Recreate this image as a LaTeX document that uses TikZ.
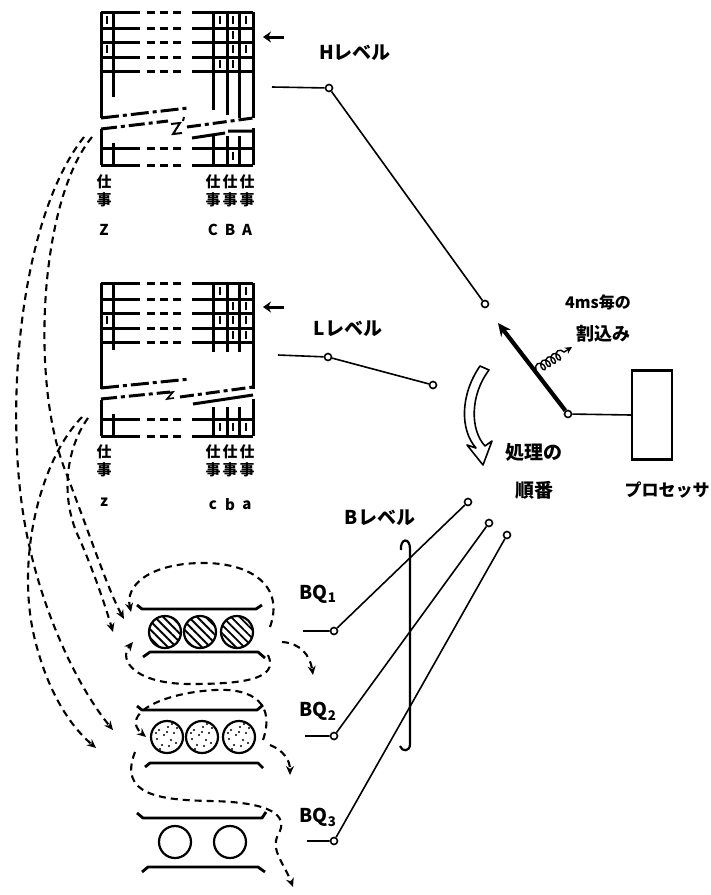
\documentclass[tikz,border=0pt]{standalone}
\usepackage{fontspec}
\setmainfont{Noto Sans CJK JP}
\usetikzlibrary{arrows.meta, positioning, decorations.pathmorphing, patterns.meta}

\tikzset{
  rule/.style={line width=3pt},
  tally/.style={line width=2.8pt},
  wire/.style={line width=1.6pt},
  contact/.style={circle, draw, line width=1.6pt, fill=white, inner sep=0pt, minimum size=7pt},
  flow/.style={line width=2.1pt, dash pattern=on 7pt off 5pt, -{Stealth[length=9pt,width=8pt]}},
  wall/.style={line width=2.8pt, line join=round},
  job/.style={circle, draw, line width=2.2pt, inner sep=0pt, minimum size=32pt},
  lbl/.style={inner sep=0pt, font=\fontsize{15}{18}\selectfont\bfseries},
  big/.style={inner sep=0pt, font=\fontsize{19}{20}\selectfont\bfseries},
}

\begin{document}
\begin{tikzpicture}[x=1pt, y=-1pt]
\useasboundingbox (0,0) rectangle (711,895);

% job tables, H level on top and L level below
\foreach \dy in {0,271} {
  \foreach \y in {12,28,42,57,71,148,165} {
    \draw[rule] (101,\y+\dy) -- (140,\y+\dy);
    \draw[rule, dash pattern=on 8pt off 5pt] (147,\y+\dy) -- (182,\y+\dy);
    \draw[rule] (192,\y+\dy) -- (253,\y+\dy);
  }
  \draw[rule] (101,12+\dy) -- (101,118+\dy);
  \draw[rule] (253,12+\dy) -- (253,118+\dy);
  \draw[rule] (101,129+\dy) -- (101,165+\dy);
  \draw[rule] (253,128+\dy) -- (253,165+\dy);
  \draw[rule] (113,143+\dy) -- (113,165+\dy);
  \foreach \x in {213,227,239} \draw[rule] (\x,136+\dy) -- (\x,165+\dy);
}
\draw[rule] (113,12) -- (113,97);
\draw[rule] (213,12) -- (213,110);
\draw[rule] (227,12) -- (227,115);
\draw[rule] (239,12) -- (239,118);
\draw[rule] (113,283) -- (113,350);
\foreach \x in {213,227,239} \draw[rule] (\x,283) -- (\x,352);

% torn edges
\draw[rule, dash pattern=on 18pt off 4pt on 4pt off 4pt] (101,118) -- (188,108);
\draw[rule, dash pattern=on 14pt off 4pt on 4pt off 4pt] (187,127) -- (253,118);
\draw[rule, dash pattern=on 16pt off 4pt on 4pt off 4pt] (101,129) -- (168,121);
\draw[rule] (192,138) -- (225,133) (228,131) -- (253,131);
\draw[line width=2pt] (171,124) -- (180,123) -- (173,134) -- (182,133) (184,117) -- (183,121);
\draw[rule, dash pattern=on 18pt off 4pt on 4pt off 4pt] (101,388) -- (190,379);
\draw[rule, dash pattern=on 14pt off 4pt on 4pt off 4pt] (180,397) -- (253,387);
\draw[rule, dash pattern=on 16pt off 4pt on 4pt off 4pt] (101,399) -- (170,392);
\draw[rule] (193,404) -- (253,395);
\draw[line width=1.6pt] (166,393) -- (173,392) -- (167,399) -- (174,398);

% tallies
\foreach \x/\y in {107/20,220/20,233/20,246/20,233/35,107/49,233/49,246/49,220/64,233/64,233/156}
  \draw[tally] (\x,\y-4) -- (\x,\y+4);
\foreach \x/\y in {220/20,246/20,233/35,246/35,107/49,220/49,233/49,246/49,233/64,246/64,220/156,233/156,246/156}
  \draw[tally] (\x,\y+267) -- (\x,\y+275);

% job labels
\node[lbl, align=center] (jobZ) at (104,191) {仕\\事};
\node[lbl] (nameZ) at (104,230) {Z};
\node[lbl, align=center] (jobC) at (213,191) {仕\\事};
\node[lbl, align=center] (jobB) at (230,191) {仕\\事};
\node[lbl, align=center] (jobA) at (247,191) {仕\\事};
\node[lbl] (nameC) at (213,230) {C};
\node[lbl] (nameB) at (230,230) {B};
\node[lbl] (nameA) at (247,230) {A};
\node[lbl, align=center] (jobz) at (104,461) {仕\\事};
\node[lbl] (namez) at (104,502) {z};
\node[lbl, align=center] (jobc) at (213,461) {仕\\事};
\node[lbl, align=center] (jobb) at (230,461) {仕\\事};
\node[lbl, align=center] (joba) at (247,461) {仕\\事};
\node[lbl] (namec) at (213,505) {c};
\node[lbl] (nameb) at (230,505) {b};
\node[lbl] (namea) at (247,505) {a};

% pointer arrows
\coordinate (hptr) at (284,37);
\coordinate (hptrend) at (263,37);
\coordinate (lptr) at (284,307);
\coordinate (lptrend) at (263,307);
\draw[line width=3pt, -{Stealth[length=8pt,width=11pt]}] (hptr) -- (hptrend);
\draw[line width=3pt, -{Stealth[length=8pt,width=11pt]}] (lptr) -- (lptrend);

% levels
\node[big] (hlab) at (355,53) {Hレベル};
\coordinate (h0) at (272,87);
\node[contact] (h1) at (329,88) {};
\node[contact] (h2) at (485,304) {};
\draw[wire] (h0) -- (h1) -- (h2);

\node[big] (llab) at (348,329) {Lレベル};
\coordinate (l0) at (278,355);
\node[contact] (l1) at (328,357) {};
\node[contact] (l2) at (433,385) {};
\draw[wire] (l0) -- (l1) -- (l2);

% processor and switch arm
\node[draw, line width=2.2pt, minimum width=40pt, minimum height=89pt, inner sep=0pt] (proc) at (652,415) {};
\node[lbl, font=\fontsize{17}{18}\selectfont\bfseries] (proclab) at (667,490) {プロセッサ};
\node[contact] (sw) at (568,414) {};
\coordinate (swtip) at (498,323);
\draw[wire] (proc.west) -- (sw);
\draw[line width=4.2pt, -{Stealth[length=13pt,width=12pt]}] (sw) -- (swtip);
\coordinate (w0) at (536,370);
\coordinate (w1) at (572,347);
\draw[line width=1.4pt, decorate, decoration={coil, aspect=0.7, segment length=6pt, amplitude=4.5pt, post length=6pt}, -{Stealth[length=7pt,width=7pt]}] (w0) -- (w1);
\node[lbl, font=\fontsize{16}{18}\selectfont\bfseries] (every) at (598,302) {4ms毎の};
\node[lbl, font=\fontsize{18}{18}\selectfont\bfseries] (intr) at (603,334) {割込み};

% processing order
\draw[line width=1.6pt, fill=white, line join=round] (480,366) .. controls (460,395) and (460,430) .. (476,448) -- (467,445) -- (483,465) -- (492,441) -- (485,446) .. controls (470,430) and (470,395) .. (489,370) -- cycle;
\node[lbl, font=\fontsize{19}{20}\selectfont\bfseries] (order1) at (534,452) {処理の};
\node[lbl, font=\fontsize{19}{20}\selectfont\bfseries] (order2) at (534,490) {順番};

% B level
\node[big] (blab) at (380,518) {Bレベル};
\node[contact] (b1) at (468,502) {};
\node[contact] (b2) at (489,523) {};
\node[contact] (b3) at (507,535) {};
\draw[line width=2.2pt] (401,550) .. controls (400,538) and (410,537) .. (410,549) -- (410,744) .. controls (410,752) and (402,752) .. (400,746);

\node[big] (bq1) at (318,594) {BQ\textsubscript{1}};
\node[big] (bq2) at (318,711) {BQ\textsubscript{2}};
\node[big] (bq3) at (318,817) {BQ\textsubscript{3}};
\coordinate (q1in) at (303,631);
\coordinate (q2in) at (305,736);
\coordinate (q3in) at (307,841);
\node[contact] (q1) at (334,631) {};
\node[contact] (q2) at (334,736) {};
\node[contact] (q3) at (334,841) {};
\draw[wire] (q1in) -- (q1) -- (b1);
\draw[wire] (q2in) -- (q2) -- (b2);
\draw[wire] (q3in) -- (q3) -- (b3);

% queues
\draw[wall] (137,605) -- (142,609) -- (256,609) -- (262,605);
\draw[wall] (143,657) -- (150,652) -- (258,652) -- (265,658);
\draw[wall] (137,706) -- (142,710) -- (257,710) -- (263,705);
\draw[wall] (145,767) -- (150,763) -- (258,763) -- (263,768);
\draw[wall] (137,813) -- (143,818) -- (262,818) -- (266,812);
\draw[wall] (142,872) -- (148,867) -- (258,867) -- (265,872);

\foreach \n/\x in {a1/165,a2/200,a3/237}
  \node[job, pattern={Lines[angle=-45,distance=6pt,line width=1.9pt]}] (\n) at (\x,632) {};
\foreach \n/\x in {c1/167,c2/202,c3/239}
  \node[job] (\n) at (\x,737) {};
\foreach \n in {c1,c2,c3}
  \foreach \dx/\dy in {-8/-7,1/-10,7/-4,-3/-2,4/3,-10/2,-5/8,2/9,9/6,0/-5,-7/12,10/-9,-11/-4,5/-13}
    \fill ([shift={(\dx,\dy)}]\n) circle (1.2pt);
\node[job] (d1) at (175,842) {};
\node[job] (d2) at (230,842) {};

% job flow
\coordinate (hz1) at (92,137);
\coordinate (hz2) at (84,137);
\coordinate (lz1) at (88,418);
\coordinate (lz2) at (82,417);
\coordinate (q1a) at (124,619);
\coordinate (q1b) at (113,632);
\coordinate (q2a) at (113,730);
\coordinate (q2b) at (96,748);
\draw[flow] (hz1) .. controls (40,200) and (30,380) .. (65,470) .. controls (90,535) and (108,590) .. (q1a);
\draw[flow] (hz2) .. controls (18,220) and (2,420) .. (28,540) .. controls (45,620) and (80,690) .. (q2a);
\draw[flow] (lz1) .. controls (65,450) and (60,500) .. (80,540) .. controls (95,575) and (105,605) .. (q1b);
\draw[flow] (lz2) .. controls (40,460) and (15,560) .. (35,640) .. controls (50,700) and (75,730) .. (q2b);

\coordinate (r1s) at (270,627);
\coordinate (r1e) at (131,612);
\coordinate (r2s) at (268,655);
\coordinate (r2e) at (133,642);
\coordinate (r3s) at (263,740);
\coordinate (r3e) at (146,737);
\coordinate (r4s) at (135,752);
\coordinate (r4e) at (293,887);
\draw[flow] (r1s) .. controls (285,585) and (250,562) .. (200,563) .. controls (150,564) and (125,585) .. (r1e);
\draw[flow] (r2s) .. controls (280,680) and (240,684) .. (190,684) .. controls (135,684) and (118,660) .. (r2e);
\draw[flow] (r3s) .. controls (275,705) and (255,688) .. (215,690) .. controls (160,693) and (120,715) .. (r3e);
\draw[flow] (r4s) .. controls (118,795) and (160,800) .. (210,801) .. controls (270,802) and (290,815) .. (278,835) .. controls (270,850) and (285,865) .. (r4e);

\coordinate (x1s) at (282,642);
\coordinate (x1e) at (313,675);
\coordinate (x2s) at (270,745);
\coordinate (x2e) at (290,775);
\draw[flow] (x1s) .. controls (300,643) and (310,655) .. (x1e);
\draw[flow] (x2s) .. controls (283,750) and (290,760) .. (x2e);
\end{tikzpicture}
\end{document}
